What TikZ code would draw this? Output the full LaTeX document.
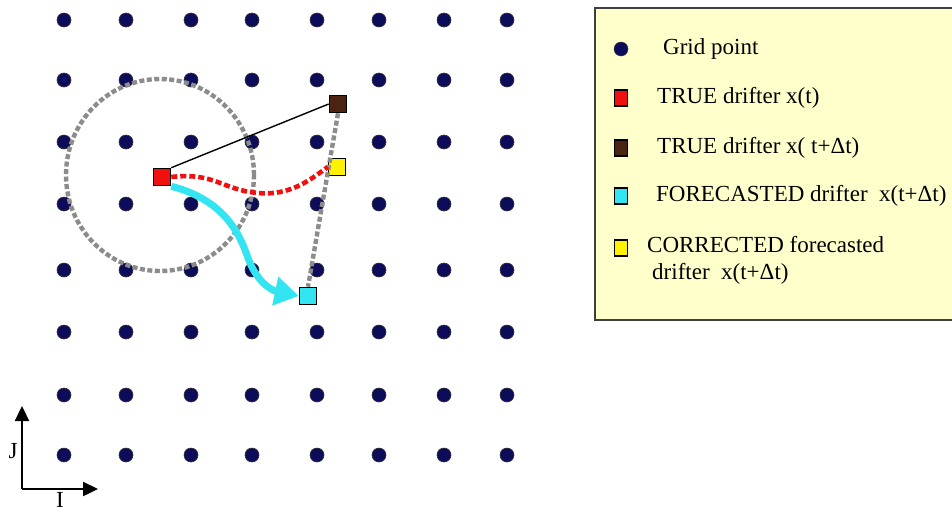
\documentclass[tikz,border=0pt]{standalone}
\usepackage{fontspec}
\setmainfont{Liberation Serif}
\usetikzlibrary{arrows.meta}
\definecolor{navy}{HTML}{0C0C5A}
\definecolor{legendfill}{HTML}{FFFFCC}
\definecolor{brownsq}{HTML}{4A2410}
\definecolor{cyansq}{HTML}{33E5F0}
\definecolor{yellowsq}{HTML}{FFF200}
\definecolor{redsq}{HTML}{F01010}
\definecolor{dashgray}{HTML}{8C8C8C}
\tikzset{
  gridpt/.style={circle, fill=navy, draw=black!80, line width=0.6pt, minimum size=14pt, inner sep=0pt},
  drifter/.style={rectangle, draw=black, line width=1.6pt, minimum size=17pt, inner sep=0pt},
  legsq/.style={rectangle, draw=black, line width=1.4pt, minimum width=13pt, minimum height=16pt, inner sep=0pt},
  legtext/.style={anchor=west, font=\fontsize{23}{26}\selectfont, inner sep=0pt},
  graydash/.style={draw=dashgray, line width=4.4pt, dash pattern=on 5pt off 2.5pt},
  axis/.style={line width=2.4pt, -{Triangle[length=15pt,width=14pt]}}
}
\begin{document}
\begin{tikzpicture}[x=1pt,y=-1pt]
\useasboundingbox (0,0) rectangle (952,512);
\fill[white] (0,0) rectangle (952,512);

% grid of model points
\foreach \x [count=\i] in {64,126,191,252,317,379,444,507}{
  \foreach \y [count=\j] in {20,80,142,204,270,332,395,455}{
    \node[gridpt] (g-\i-\j) at (\x,\y) {};
  }
}

% search radius around the initial drifter position
\draw[graydash] (160,175) ellipse (94pt and 96pt);

% drifter positions
\node[drifter, fill=redsq] (red) at (162,177) {};
\node[drifter, fill=brownsq] (brown) at (338,104) {};
\node[drifter, fill=yellowsq] (yellow) at (337,167) {};
\node[drifter, fill=cyansq] (cyan) at (308,296) {};

% true displacement
\draw[black, line width=1.4pt] (red.north east) -- (brown.west);
% line between true and forecasted end points
\draw[graydash] (brown.south) -- (cyan.north);
% corrected trajectory
\draw[redsq, line width=4.6pt, dash pattern=on 6pt off 3pt]
  (red.east) .. controls (215,172) and (222,190) .. (258,193)
  .. controls (290,196) and (310,180) .. (yellow.west);
% forecasted trajectory
\draw[cyansq, line width=7pt, -{Triangle[length=24pt,width=28pt]}]
  (red.south east) .. controls (225,200) and (240,235) .. (248,258)
  .. controls (256,280) and (270,290) .. (cyan.west);
\node[drifter, fill=cyansq] at (cyan) {};
\node[drifter, fill=redsq] at (red) {};

% axes
\coordinate (o) at (22,489);
\coordinate (jtip) at (22,406);
\coordinate (itip) at (98,489);
\draw[axis] (o) -- (jtip);
\draw[axis] (o) -- (itip);
\node[font=\fontsize{23}{26}\selectfont, inner sep=0pt] (jlab) at (13,451) {J};
\node[font=\fontsize{23}{26}\selectfont, inner sep=0pt] (ilab) at (60,500) {I};

% legend
\draw[draw=black!75, line width=1.8pt, fill=legendfill] (595,8) rectangle (960,320);
\node[circle, fill=navy, draw=black!80, minimum size=14pt, inner sep=0pt] (l1) at (621,49) {};
\node[legsq, fill=redsq] (l2) at (621,98) {};
\node[legsq, fill=brownsq] (l3) at (621,148) {};
\node[legsq, fill=cyansq] (l4) at (621,196) {};
\node[legsq, fill=yellowsq] (l5) at (621,248) {};
\node[legtext] (t1) at (663,49) {Grid point};
\node[legtext] (t2) at (657,98) {TRUE drifter x(t)};
\node[legtext] (t3) at (657,148) {TRUE drifter x( t+Δt)};
\node[legtext] (t4) at (656,196) {FORECASTED drifter\ \ x(t+Δt)};
\node[legtext] (t5) at (647,245) {CORRECTED forecasted};
\node[legtext] (t6) at (652,274) {drifter\ \ x(t+Δt)};
\end{tikzpicture}
\end{document}
